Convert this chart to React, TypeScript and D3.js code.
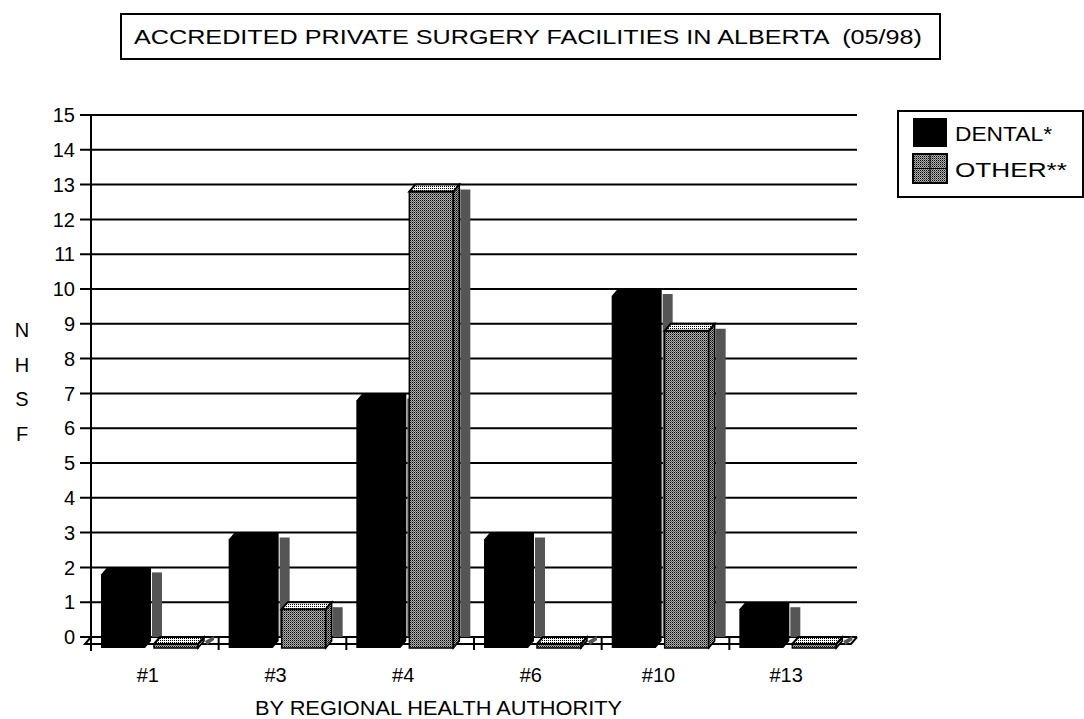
import React from "react";
import * as d3 from "d3";

// chart data
const categories = ["#1", "#3", "#4", "#6", "#10", "#13"];
const dental = [2, 3, 7, 3, 10, 1];
const other = [0, 1, 13, 0, 9, 0];
const yTicks = d3.range(0, 16);
const legendLabels = ["DENTAL*", "OTHER**"];
const legendWidths = [97, 112];

const W = 1084;
const H = 719;
const FONT = "'Liberation Sans', Arial, sans-serif";

// 3D look
const DX = 6;
const DY = 7;
const BAR_W = 44;

const App = () => {
  const x = d3.scaleBand<string>().domain(categories).range([91, 857]);
  const y = d3.scaleLinear().domain([0, 15]).range([637, 115]);
  const y0 = y(0);
  const frontBottom = y0 + 11;

  const pts = (p: number[][]) => p.map((d) => d.join(",")).join(" ");

  // black dental bar: silhouette only
  const dentalBar = (x0: number, v: number) => {
    const top = y(v) + DY;
    return pts([
      [x0, top],
      [x0 + DX, top - DY],
      [x0 + BAR_W + DX, top - DY],
      [x0 + BAR_W + DX, frontBottom - DY],
      [x0 + BAR_W, frontBottom],
      [x0, frontBottom],
    ]);
  };

  const shadow = (x0: number, v: number) => {
    const sx = x0 + BAR_W + DX + 1;
    if (v === 0) {
      return pts([
        [sx, y0 + 4],
        [sx + 9, y0 - 1],
        [sx + 9, y0 + 3],
        [sx + 2, y0 + 8],
      ]);
    }
    return pts([
      [sx, y(v) + 5],
      [sx + 10, y(v) + 5],
      [sx + 10, y0],
      [sx, y0],
    ]);
  };

  return (
    <svg
      width={W}
      height={H}
      style={{ position: "absolute", left: 0, top: 0, background: "#fff" }}
      fontFamily={FONT}
    >
      <defs>
        <pattern id="front" width={2} height={2} patternUnits="userSpaceOnUse">
          <rect width={2} height={2} fill="#b0b0b0" />
          <rect width={1} height={1} fill="#000" />
          <rect x={1} y={1} width={1} height={1} fill="#606060" />
        </pattern>
        <pattern id="side" width={2} height={2} patternUnits="userSpaceOnUse">
          <rect width={2} height={2} fill="#a0a0a0" />
          <rect width={1} height={1} fill="#000" />
          <rect x={1} y={1} width={1} height={1} fill="#404040" />
        </pattern>
        <pattern id="topface" width={2} height={2} patternUnits="userSpaceOnUse">
          <rect width={2} height={2} fill="#fff" />
          <rect width={1} height={1} fill="#000" />
        </pattern>
      </defs>

      {/* title */}
      <rect x={121} y={14} width={819} height={45} fill="none" stroke="#000" strokeWidth={2} />
      <text
        x={134}
        y={44}
        fontSize={20}
        textLength={788}
        lengthAdjust="spacingAndGlyphs"
        style={{ whiteSpace: "pre" }}
      >
        {"ACCREDITED PRIVATE SURGERY FACILITIES IN ALBERTA  (05/98)"}
      </text>

      {/* grid + y ticks */}
      {yTicks.map((t) => (
        <g key={t}>
          <line x1={80} x2={857} y1={y(t)} y2={y(t)} stroke="#000" strokeWidth={2} />
          <text x={75} y={y(t)} dy="0.36em" textAnchor="end" fontSize={20}>
            {t}
          </text>
        </g>
      ))}
      <line x1={91} x2={91} y1={y(15) - 1} y2={651} stroke="#000" strokeWidth={2} />

      {/* floor */}
      <polyline
        points={pts([
          [91, y0],
          [85, y0 + 7],
          [851, y0 + 7],
          [857, y0],
        ])}
        fill="none"
        stroke="#000"
        strokeWidth={2}
      />
      {categories.map((c) => (
        <line key={c} x1={x(c)!} x2={x(c)!} y1={y0 - 1} y2={y0 + 13} stroke="#000" strokeWidth={2} />
      ))}

      {/* bars */}
      {categories.map((c, i) => {
        const b = x(c)!;
        const dx0 = b + 10;
        const ox0 = b + 63;
        const v = other[i];
        const oTop = y(v) + DY;
        return (
          <g key={c}>
            <polygon points={shadow(dx0, dental[i])} fill="#555" />
            <polygon points={dentalBar(dx0, dental[i])} fill="#000" />
            <polygon points={shadow(ox0, v)} fill="#555" />
            {/* other: front, side, top */}
            <rect
              x={ox0}
              y={oTop}
              width={BAR_W}
              height={frontBottom - oTop}
              fill="url(#front)"
              stroke="#000"
              strokeWidth={1.5}
            />
            <polygon
              points={pts([
                [ox0 + BAR_W, oTop],
                [ox0 + BAR_W + DX, oTop - DY],
                [ox0 + BAR_W + DX, frontBottom - DY],
                [ox0 + BAR_W, frontBottom],
              ])}
              fill="url(#side)"
              stroke="#000"
              strokeWidth={1.5}
            />
            <polygon
              points={pts([
                [ox0, oTop],
                [ox0 + DX, oTop - DY],
                [ox0 + BAR_W + DX, oTop - DY],
                [ox0 + BAR_W, oTop],
              ])}
              fill="url(#topface)"
              stroke="#000"
              strokeWidth={2}
            />
          </g>
        );
      })}

      {/* category labels */}
      {categories.map((c) => (
        <text key={c} x={x(c)! + x.bandwidth() / 2 - 7} y={682} textAnchor="middle" fontSize={20}>
          {c}
        </text>
      ))}
      <text x={255} y={715} fontSize={20} textLength={367} lengthAdjust="spacingAndGlyphs">
        BY REGIONAL HEALTH AUTHORITY
      </text>

      {/* y axis title, one letter per line */}
      {["N", "H", "S", "F"].map((l, i) => (
        <text key={l} x={22} y={337 + i * 34.5} textAnchor="middle" fontSize={20}>
          {l}
        </text>
      ))}

      {/* legend */}
      <rect x={898} y={111} width={185} height={86} fill="#fff" stroke="#000" strokeWidth={2} />
      <rect x={913} y={118} width={34} height={29} fill="#000" />
      <rect x={913} y={154} width={34} height={29} fill="url(#front)" stroke="#000" strokeWidth={2} />
      <line x1={930} x2={930} y1={154} y2={183} stroke="#000" strokeWidth={1} />
      <line x1={913} x2={947} y1={168.5} y2={168.5} stroke="#000" strokeWidth={1} />
      {legendLabels.map((l, i) => (
        <text
          key={l}
          x={955}
          y={141 + i * 36}
          fontSize={20}
          textLength={legendWidths[i]}
          lengthAdjust="spacingAndGlyphs"
        >
          {l}
        </text>
      ))}
    </svg>
  );
};

export default App;
